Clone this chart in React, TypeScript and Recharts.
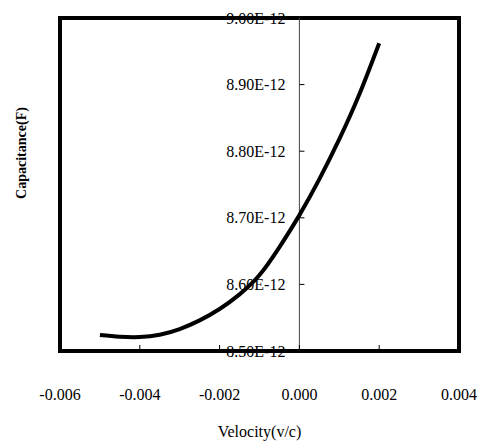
import { LineChart, Line, XAxis, YAxis, ReferenceLine, ReferenceArea } from 'recharts'

const velocity = [-0.005, -0.0045, -0.004, -0.0035, -0.003, -0.0025, -0.002, -0.0015, -0.001, -0.0005, 0, 0.0005, 0.001, 0.0015, 0.002]
const capacitance = [
  8.524e-12, 8.5215e-12, 8.521e-12, 8.5245e-12, 8.533e-12, 8.546e-12, 8.563e-12, 8.585e-12,
  8.614e-12, 8.656e-12, 8.704e-12, 8.758e-12, 8.818e-12, 8.885e-12, 8.962e-12,
]
const xTicks = [-0.006, -0.004, -0.002, 0, 0.002, 0.004]
const yTicks = [8.5e-12, 8.6e-12, 8.7e-12, 8.8e-12, 8.9e-12, 9.0e-12]

const data = velocity.map((v, i) => ({ v, c: capacitance[i] }))

const FONT = 'Liberation Serif, Times New Roman, serif'
const fmtY = (c: number) => (c * 1e12).toFixed(2) + 'E-12'

export default function App() {
  return (
    <div style={{ position: 'absolute', left: 0, top: 0, width: 485, height: 443, background: '#fff', fontFamily: FONT }}>
      <LineChart width={485} height={443} data={data} margin={{ top: 18, right: 26, left: 60, bottom: 0 }} style={{ fontFamily: FONT }}>
        <XAxis
          dataKey="v"
          type="number"
          domain={[-0.006, 0.004]}
          ticks={xTicks}
          interval={0}
          allowDataOverflow
          height={92}
          axisLine={false}
          tickSize={-6}
          tickMargin={44}
          tickLine={{ stroke: '#000' }}
          tick={{ fontSize: 16, fill: '#000', style: { fontFamily: FONT } }}
          tickFormatter={(v: number) => v.toFixed(3)}
          label={{ value: 'Velocity(v/c)', position: 'insideBottom', offset: 6, fontSize: 16, fill: '#000', style: { fontFamily: FONT } }}
        />
        <YAxis hide type="number" domain={[8.5e-12, 9.0e-12]} allowDataOverflow />
        <ReferenceLine x={0} stroke="#444" strokeWidth={1} />
        {yTicks.map((t) => (
          <ReferenceLine
            key={t}
            segment={[{ x: 0, y: t }, { x: 0.000126, y: t }]}
            stroke="#000"
            strokeWidth={1}
            label={{ value: fmtY(t), position: 'left', offset: 14, fontSize: 16, fill: '#000', style: { fontFamily: FONT } }}
          />
        ))}
        <Line type="natural" dataKey="c" stroke="#000" strokeWidth={4} dot={false} isAnimationActive={false} />
        <ReferenceArea x1={-0.006} x2={0.004} y1={8.5e-12} y2={9.0e-12} fill="none" fillOpacity={0} stroke="#000" strokeWidth={4} />
      </LineChart>
      <div
        style={{
          position: 'absolute',
          left: 22,
          top: 153,
          transform: 'translate(-50%, -50%) rotate(-90deg)',
          whiteSpace: 'nowrap',
          fontFamily: FONT,
          fontWeight: 'bold',
          fontSize: 14,
          color: '#000',
        }}
      >
        Capacitance(F)
      </div>
    </div>
  )
}
